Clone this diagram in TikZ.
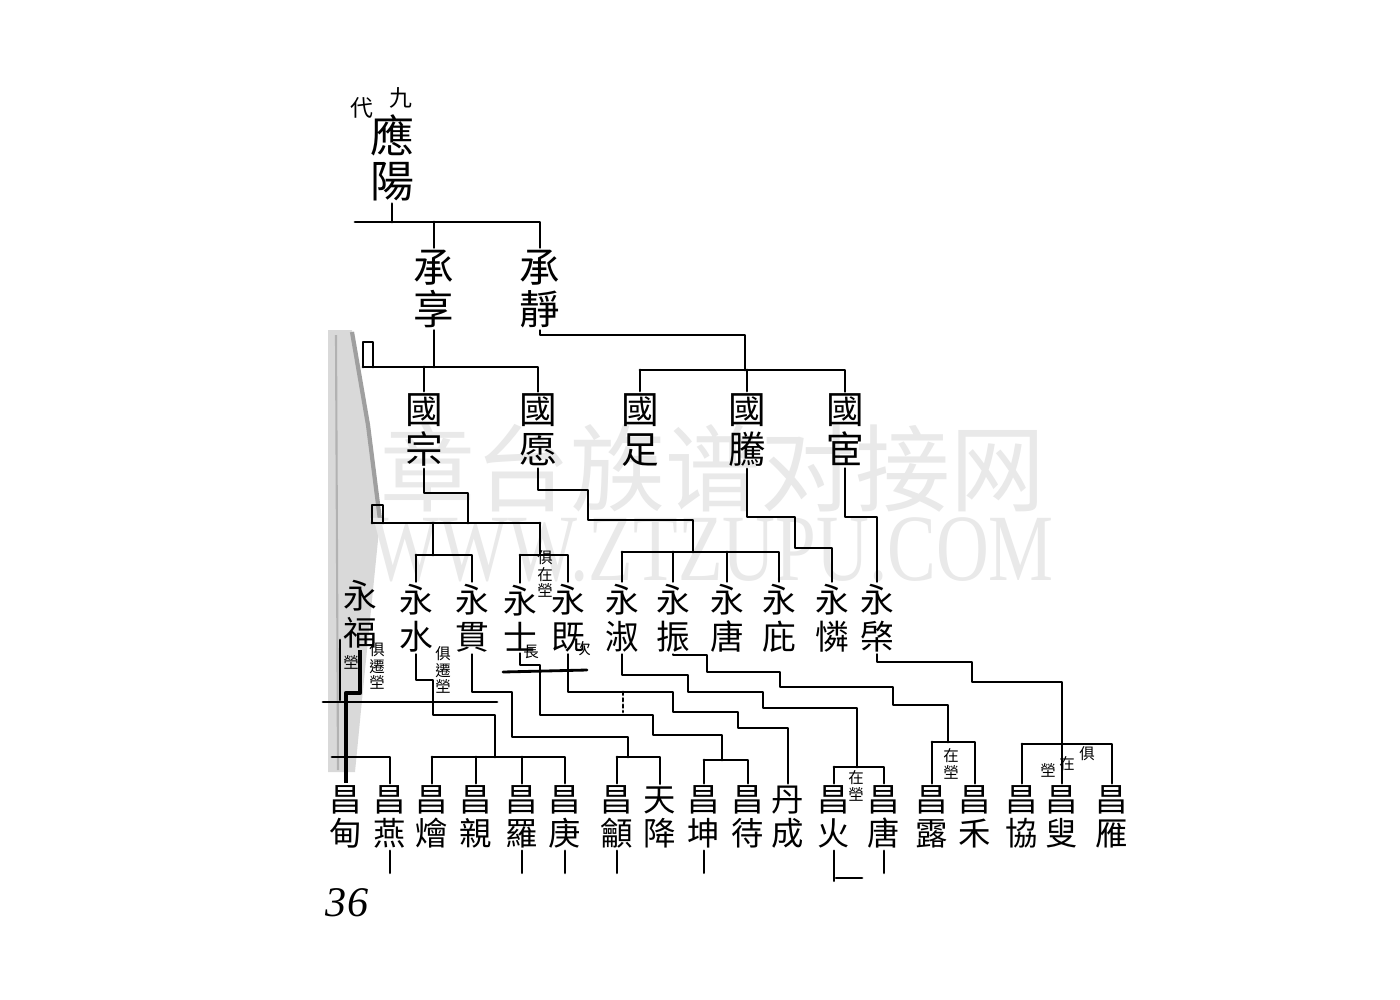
\documentclass[tikz,border=0pt]{standalone}
\usepackage{fontspec}
\setmainfont{Liberation Serif}
\newfontfamily\cjk{Noto Sans CJK TC}
\newfontfamily\cjksc{Noto Sans CJK SC}
\tikzset{
  ln/.style={line width=0.8pt, line cap=round, line join=round},
  thk/.style={line width=1.3pt, line join=round},
  nmbase/.style={align=center, inner sep=0.5pt, text=black},
  n1/.style={nmbase, font=\cjk\fontsize{12.5}{12.8}\selectfont},
  n2/.style={nmbase, font=\cjk\fontsize{11.5}{12}\selectfont},
  n3/.style={nmbase, font=\cjk\fontsize{10.7}{11.4}\selectfont},
  n4/.style={nmbase, font=\cjk\fontsize{9.6}{10.5}\selectfont},
  n5/.style={nmbase, font=\cjk\fontsize{9.2}{9.7}\selectfont},
  sm/.style={nmbase, font=\cjk\fontsize{6.5}{7}\selectfont},
  an/.style={nmbase, inner sep=0pt, font=\cjk\fontsize{4.4}{4.8}\selectfont},
  wmz/.style={inner sep=0, text=gray!17, font=\cjksc\fontsize{27}{27}\selectfont},
  wme/.style={inner sep=0, text=gray!17, font=\fontsize{27}{27}\selectfont},
  pg/.style={inner sep=0, font=\itshape\fontsize{12}{12}\selectfont}
}
\begin{document}
\begin{tikzpicture}[x=0.01cm,y=-0.01cm]
\useasboundingbox (0,0) rectangle (1400,1000);
\fill[white] (0,0) rectangle (1400,1000);

% paper fold at the left
\fill[gray!30] (328,330) -- (352,330) -- (368,420) -- (380,520) -- (372,600) -- (362,700) -- (355,772) -- (328,772) -- cycle;
\draw[gray!75, line width=1.2pt] (352,332) -- (368,425) -- (380,520);
\draw[gray!60, line width=0.6pt] (336,335) -- (338,770);

% watermark
\node[wmz] (wm1) at (713,468) {章台族谱对接网};
\node[wme] (wm2) at (712,550) {\scalebox{0.77}[1]{WWW.ZTZUPU.COM}};

% generation 1
\node[sm] (jiu) at (401,98) {九};
\node[sm] (dai) at (362,108) {代};
\node[n1] (yy) at (392,158) {應\\陽};

% generation 2
\node[n2] (ch1) at (434,289) {承\\享};
\node[n2] (ch2) at (540,289) {承\\靜};

% generation 3
\node[n3] (g1) at (424,430) {國\\宗};
\node[n3] (g2) at (538,430) {國\\愿};
\node[n3] (g3) at (640,430) {國\\足};
\node[n3] (g4) at (747,430) {國\\騰};
\node[n3] (g5) at (845,430) {國\\宦};

% generation 4
\node[n4] (y1) at (360,614) {永\\福};
\node[n4] (y2) at (416,618) {永\\水};
\node[n4] (y3) at (472,618) {永\\貫};
\node[n4] (y4) at (520,618) {永\\士};
\node[n4] (y5) at (568,618) {永\\既};
\node[n4] (y6) at (622,618) {永\\淑};
\node[n4] (y7) at (673,618) {永\\振};
\node[n4] (y8) at (727,618) {永\\唐};
\node[n4] (y9) at (779,618) {永\\庇};
\node[n4] (y10) at (832,618) {永\\憐};
\node[n4] (y11) at (877,618) {永\\棨};

% annotations of generation 4
\node[an] (a1) at (531,652) {長};
\node[an] (a2) at (583,649) {次};
\node[an] (a3) at (545,574) {俱\\在\\塋};
\node[an] (a4) at (443,670) {俱\\遷\\塋};
\node[an] (a5) at (351,662) {塋};
\node[an] (a6) at (377,666) {俱\\遷\\塋};

% generation 5
\node[n5] (c1) at (346,817) {昌\\甸};
\node[n5] (c2) at (390,817) {昌\\燕};
\node[n5] (c3) at (432,817) {昌\\燴};
\node[n5] (c4) at (476,817) {昌\\親};
\node[n5] (c5) at (522,817) {昌\\羅};
\node[n5] (c6) at (565,817) {昌\\庚};
\node[n5] (c7) at (617,817) {昌\\龥};
\node[n5] (c8) at (660,817) {天\\降};
\node[n5] (c9) at (704,817) {昌\\坤};
\node[n5] (c10) at (748,817) {昌\\待};
\node[n5] (c11) at (788,817) {丹\\成};
\node[n5] (c12) at (834,817) {昌\\火};
\node[n5] (c13) at (884,817) {昌\\唐};
\node[n5] (c14) at (932,817) {昌\\露};
\node[n5] (c15) at (975,817) {昌\\禾};
\node[n5] (c16) at (1022,817) {昌\\協};
\node[n5] (c17) at (1062,817) {昌\\叟};
\node[n5] (c18) at (1112,817) {昌\\雁};

% annotations of generation 5
\node[an] (a7) at (856,786) {在\\塋};
\node[an] (a8) at (951,764) {在\\塋};
\node[an] (a9) at (1048,770) {塋};
\node[an] (a10) at (1067,764) {在};
\node[an] (a11) at (1087,754) {俱};

% page number
\node[pg] (pn) at (347,903) {36};

% ---- connectors: generation 1 -> 2
\coordinate (t1) at (392,222);
\draw[ln] (yy.south) -- (t1);
\draw[ln] (355,222) -- (ch2.north |- t1) -- (ch2.north);
\draw[ln] (ch1.north |- t1) -- (ch1.north);

% ---- generation 2 -> 3
\coordinate (t2) at (430,367);
\draw[ln] (ch1.south) -- (ch1.south |- t2);
\draw[ln] (363,367) |- (373,342) -- (373,367);
\draw[ln] (363,367) -- (g2.north |- t2) -- (g2.north);
\draw[ln] (g1.north |- t2) -- (g1.north);
\coordinate (t3) at (745,370);
\draw[ln] (ch2.south) |- (745,335) -- (t3);
\draw[ln] (g3.north |- t3) -- (g5.north |- t3) -- (g5.north);
\draw[ln] (g3.north |- t3) -- (g3.north);
\draw[ln] (g4.north |- t3) -- (g4.north);

% ---- generation 3 -> 4
\draw[ln] (g1.south) |- (468,493) -- (468,523);
\draw[ln] (372,523) -- (540,523);
\draw[ln] (372,523) |- (383,505) -- (383,523);
\draw[ln] (433,523) -- (433,555);
\draw[ln] (y2.north |- 0,555) -- (y3.north |- 0,555) -- (y3.north);
\draw[ln] (y2.north |- 0,555) -- (y2.north);
\draw[ln] (540,523) -- (540,555);
\draw[ln] (y4.north |- 0,555) -- (y5.north |- 0,555) -- (y5.north);
\draw[ln] (y4.north |- 0,555) -- (y4.north);

\draw[ln] (g2.south) |- (588,490) -- (588,520) -- (693,520) -- (693,552);
\draw[ln] (y6.north |- 0,552) -- (y9.north |- 0,552) -- (y9.north);
\draw[ln] (y6.north |- 0,552) -- (y6.north);
\draw[ln] (y7.north |- 0,552) -- (y7.north);
\draw[ln] (y8.north |- 0,552) -- (y8.north);

\draw[ln] (g4.south) |- (795,517) -- (795,548) -- (y10.north |- 0,548) -- (y10.north);
\draw[ln] (g5.south) |- (y11.north |- 0,517) -- (y11.north);

% ---- generation 4 -> 5
% Yongfu
\draw[ln] (340,640) -- (340,700);
\draw[thk] (y1.south) |- (c1.north |- 0,693) -- (c1.north);
\draw[ln] (323,702) -- (497,702);
\draw[ln] (332,757) -- (c2.north |- 0,757) -- (c2.north);
% Yongshui
\draw[ln] (y2.south) |- (433,680) -- (433,715) -- (495,715) -- (495,757);
\draw[ln] (c3.north |- 0,757) -- (c6.north |- 0,757) -- (c6.north);
\draw[ln] (c3.north |- 0,757) -- (c3.north);
\draw[ln] (c4.north |- 0,757) -- (c4.north);
\draw[ln] (c5.north |- 0,757) -- (c5.north);
% Yongguan
\draw[ln] (y3.south) |- (512,692) -- (512,737) -- (628,737) -- (628,757);
\draw[ln] (c7.north |- 0,757) -- (c8.north |- 0,757) -- (c8.north);
\draw[ln] (c7.north |- 0,757) -- (c7.north);
% Yongshi
\draw[ln] (y4.south) |- (540,665) -- (540,715) -- (653,715) -- (653,735) -- (722,735) -- (722,760);
\draw[ln] (503,672) -- (587,670);
\draw[ln] (c9.north |- 0,760) -- (c10.north |- 0,760) -- (c10.north);
\draw[ln] (c9.north |- 0,760) -- (c9.north);
% Yongji
\draw[ln] (y5.south) |- (673,692) -- (673,712) -- (738,712) -- (738,728) -- (c11.north |- 0,728) -- (c11.north);
\draw[ln, densely dotted] (623,692) -- (623,712);
% Yongshu
\draw[ln] (y6.south) |- (688,675) -- (688,692) -- (763,692) -- (763,708) -- (857,708) -- (857,767);
\draw[ln] (c12.north |- 0,767) -- (c13.north |- 0,767) -- (c13.north);
\draw[ln] (c12.north |- 0,767) -- (c12.north);
% Yongzhen
\draw[ln] (y7.south) |- (707,655) -- (707,672) -- (780,672) -- (780,687) -- (893,687) -- (893,705) -- (948,705) -- (948,742);
\draw[ln] (c14.north |- 0,742) -- (c15.north |- 0,742) -- (c15.north);
\draw[ln] (c14.north |- 0,742) -- (c14.north);
% Yongqi
\draw[ln] (y11.south) |- (972,662) -- (972,682) -- (c17.north |- 0,682) -- (c17.north);
\draw[ln] (c16.north |- 0,744) -- (c18.north |- 0,744) -- (c18.north);
\draw[ln] (c16.north |- 0,744) -- (c16.north);

% ---- short lines below generation 5
\foreach \n in {c2,c5,c6,c7,c9,c13} \draw[ln] (\n.south) -- ++(0,22);
\draw[ln] (c12.south) -- ++(0,30);
\coordinate (u1) at (836,878);
\draw[ln] (u1) -- ++(26,0);
\end{tikzpicture}
\end{document}
